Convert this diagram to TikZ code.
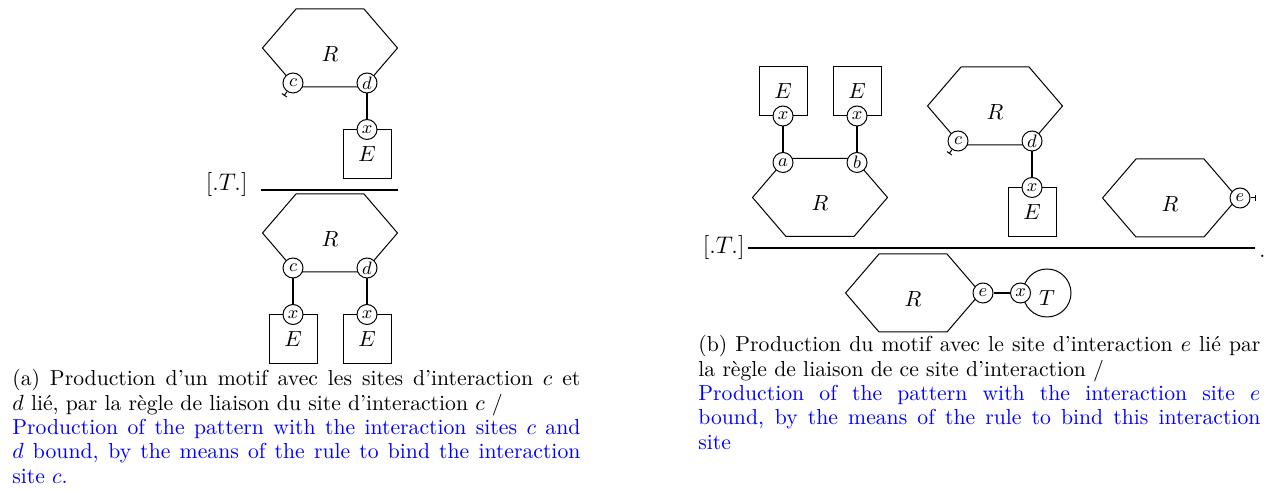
\documentclass[tikz,border=0pt]{standalone}
\usepackage{tikz}
\usetikzlibrary{arrows.meta, positioning}

\begin{document}
\begin{tikzpicture}[
    x=0.5pt, y=-0.5pt,
    font=\fontsize{10.84}{12.2}\selectfont,
    hexa/.pic={
        \draw[line width=0.5pt] (-67.5,0) -- (-34,-39) -- (34,-39) -- (67.5,0) -- (34,39) -- (-34,39) -- cycle;
        \coordinate (-o) at (0,0);
        \node (-lab) at (0,6) {$R$};
    },
    site/.style={draw, circle, fill=white, inner sep=0pt, minimum size=10pt, font=\fontsize{8.67}{10}\selectfont, line width=0.5pt},
    ebox/.style={draw, minimum width=24pt, minimum height=24.5pt, line width=0.5pt},
    tnode/.style={draw, circle, minimum size=24pt, inner sep=0pt, text height=12.5pt, text depth=0pt, line width=0.5pt},
    bond/.style={line width=1.2pt},
    free/.style={line width=0.5pt, -{Bar[width=3pt, line width=0.5pt]}},
    rule/.style={line width=0.6pt},
    rulelab/.style={font=\fontsize{13}{15}\selectfont, inner sep=0pt},
    legende/.style={text width=#1, align=justify, inner sep=0pt, anchor=north west},
]
\useasboundingbox (0,0) rectangle (1272,490);

% (a) premisse
\pic (ha) at (330,48) {hexa};
\node[site] (c1) at ([shift={(-37,35)}]ha-o) {$c$};
\node[site] (d1) at ([shift={(37,35)}]ha-o) {$d$};
\draw[free] (c1.235) -- ++(235:2.5pt);
\node[ebox, below=18pt of d1] (ea1) {$E$};
\node[site] (xa1) at (ea1.north) {$x$};
\draw[bond] (d1) -- (xa1);

% (a) regle
\coordinate (ra1) at (261,190);
\coordinate (ra2) at (398,190);
\draw[rule] (ra1) -- (ra2);
\node[rulelab, left=6.5pt of ra1, yshift=2.5pt] (ta) {$[.T.]$};

% (a) conclusion
\pic (hb) at (330,233) {hexa};
\node[site] (c2) at ([shift={(-37,35)}]hb-o) {$c$};
\node[site] (d2) at ([shift={(37,35)}]hb-o) {$d$};
\node[ebox, below=18pt of c2] (ea2) {$E$};
\node[ebox, below=18pt of d2] (ea3) {$E$};
\node[site] (xa2) at (ea2.north) {$x$};
\node[site] (xa3) at (ea3.north) {$x$};
\draw[bond] (c2) -- (xa2);
\draw[bond] (d2) -- (xa3);

\node[legende=284pt] (capa) at (12,369) {(a) Production d'un motif avec les sites d'interaction $c$ et\linebreak $d$ lié, par la règle de liaison du site d'interaction $c$ /\\
{\color{blue}Production of the pattern with the interaction sites $c$ and\linebreak $d$ bound, by the means of the rule to bind the interaction\linebreak site $c$.}};

% (b) premisses
\pic (hc) at (820,197.5) {hexa};
\node[site] (a1) at ([shift={(-37,-35)}]hc-o) {$a$};
\node[site] (b1) at ([shift={(37,-35)}]hc-o) {$b$};
\node[ebox, above=18pt of a1] (eb1) {$E$};
\node[ebox, above=18pt of b1] (eb2) {$E$};
\node[site] (xb1) at (eb1.south) {$x$};
\node[site] (xb2) at (eb2.south) {$x$};
\draw[bond] (xb1) -- (a1);
\draw[bond] (xb2) -- (b1);

\pic (hd) at (995,106) {hexa};
\node[site] (c3) at ([shift={(-37,35)}]hd-o) {$c$};
\node[site] (d3) at ([shift={(37,35)}]hd-o) {$d$};
\draw[free] (c3.235) -- ++(235:2.5pt);
\node[ebox, below=18pt of d3] (eb3) {$E$};
\node[site] (xb3) at (eb3.north) {$x$};
\draw[bond] (d3) -- (xb3);

\pic (he) at (1170,198) {hexa};
\node[site] (e1) at ([shift={(70,0)}]he-o) {$e$};
\draw[free] (e1.east) -- ++(0:2.5pt);

% (b) regle
\coordinate (rb1) at (748,248);
\coordinate (rb2) at (1255,248);
\draw[rule] (rb1) -- (rb2);
\node[rulelab, left=1.5pt of rb1] (tb) {$[.T.]$};
\node[anchor=base west, inner sep=0pt] (pt) at ([xshift=2pt, yshift=-5pt]rb2) {.};

% (b) conclusion
\pic (hf) at (913,293) {hexa};
\node[site] (e2) at ([shift={(70,0)}]hf-o) {$e$};
\node[tnode] (t) at (1047,293) {$T$};
\node[site] (xt) at ([xshift=-1pt]t.west) {$x$};
\draw[bond] (e2) -- (xt);

\node[legende=281pt] (capb) at (698,335) {(b) Production du motif avec le site d'interaction $e$ lié par\linebreak la règle de liaison de ce site d'interaction /\\
{\color{blue}Production of the pattern with the interaction site $e$\linebreak bound, by the means of the rule to bind this interaction\linebreak site}};

\end{tikzpicture}
\end{document}
